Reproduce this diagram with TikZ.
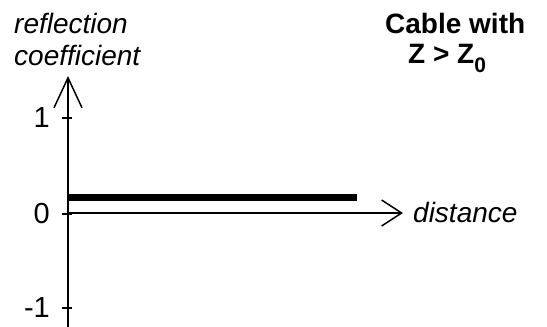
\documentclass[tikz,border=0pt]{standalone}
\usepackage{fontspec}
\setmainfont{Liberation Sans}
\usetikzlibrary{arrows.meta,positioning}
\tikzset{
    axisLine/.style={
        ,   line width=1.5pt
        ,   draw=black
    },
    yTip/.style={
        ,   -{Straight Barb[length=30pt,width=28pt]}
    },
    xTip/.style={
        ,   -{Straight Barb[length=20pt,width=26pt]}
    },
    axisText/.style={
        ,   font={\fontsize{28pt}{32pt}\selectfont\itshape}
    },
    titleText/.style={
        ,   font={\fontsize{28pt}{30pt}\selectfont\bfseries}
    },
}

\begin{document}
\begin{tikzpicture}[x=1pt, y=-1pt, inner sep=0pt, font={\fontsize{29pt}{32pt}\selectfont}]
\useasboundingbox (0,0) rectangle (547,327);
\coordinate (O) at (68,213);
\coordinate (Ytop) at (68,76);
\coordinate (Ybot) at (68,327);
\coordinate (Xend) at (403,213);
\draw[axisLine, yTip] (Ybot) -- (Ytop);
\draw[axisLine, xTip] (O) -- (Xend);

\foreach \v/\y [count=\i] in {1/118, 0/214, -1/308}{
  \coordinate (tickL\i) at (62,\y);
  \coordinate (tickR\i) at (72,\y);
  \draw[axisLine] (tickL\i) -- (tickR\i);
  \node[anchor=east] (tick\i) at (50,\y) {\v};
}

% reflection level along the cable
\coordinate (Ls) at (68,197.5);
\coordinate (Le) at (357,197.5);
\draw[line width=7pt] (Ls) -- (Le);

\node[axisText, anchor=base west, align=left] (yLabel) at (14,65) {reflection\\coefficient};
\node[axisText, anchor=base west] (xLabel) at (413,222) {distance};

\node[titleText, anchor=base west] (title) at (385,33) {Cable with};
\node[titleText, anchor=base west] (cond) at (408,63) {Z > Z\raisebox{-9pt}{\fontsize{21pt}{21pt}\selectfont 0}};
\end{tikzpicture}
\end{document}
